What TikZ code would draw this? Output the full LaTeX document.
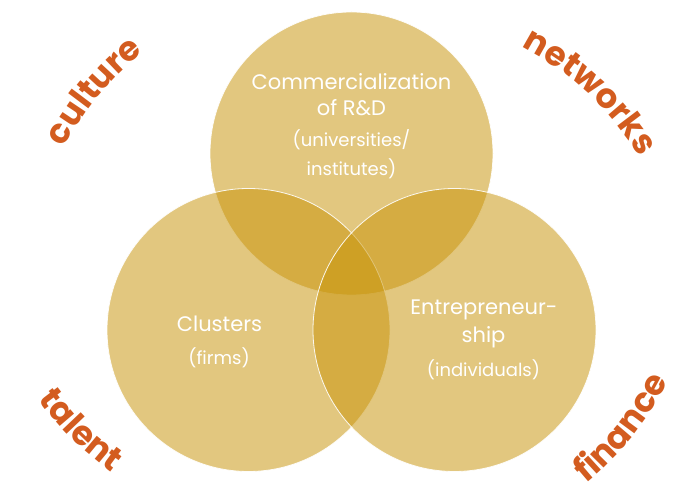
\documentclass[tikz,border=0pt]{standalone}
\usepackage{fontspec}
\setmainfont{Poppins}
\usetikzlibrary{decorations.text}
\definecolor{gold}{RGB}{200,148,10}
\definecolor{rust}{RGB}{211,92,31}
\newcommand\lblfont{\fontsize{34}{34}\selectfont\bfseries}
\begin{document}
\begin{tikzpicture}[x=1pt,y=1pt,
  venn/.style={circle,minimum size=283pt,inner sep=0pt,fill=gold,fill opacity=0.52,draw=white,draw opacity=0.9,line width=0.8pt},
  mainlbl/.style={text=white,font=\fontsize{21}{21}\selectfont,inner sep=0pt},
  sublbl/.style={text=white,font=\fontsize{18}{18}\selectfont,inner sep=0pt},
  arclbl/.style={decorate,decoration={text along path,text align=center,text color=rust}}]
\useasboundingbox (0,0) rectangle (686,492);
% circles
\node[venn] (top) at (351.5,338.5) {};
\node[venn] (left) at (248.5,162) {};
\node[venn] (right) at (454.5,162) {};
% inner labels
\node[mainlbl] (t1) at (351.5,410.5) {Commercialization};
\node[mainlbl] (t2) at (351.5,384.5) {of R\&D};
\node[sublbl] (t3) at (351.5,352) {(universities/};
\node[sublbl] (t4) at (351.5,323.5) {institutes)};
\node[mainlbl] (c1) at (219.5,168.5) {Clusters};
\node[sublbl] (c2) at (219,134.5) {(firms)};
\node[mainlbl] (e1) at (484,182) {Entrepreneur-};
\node[mainlbl] (e2) at (483.5,154.5) {ship};
\node[sublbl] (e3) at (483.5,122) {(individuals)};
% outer curved labels
\coordinate (cc) at (330.5,204);
\coordinate (nc) at (383,178);
\coordinate (tc) at (296,280);
\coordinate (fc) at (384,255);
\path[arclbl,decoration={text={|\lblfont|culture}}] (cc) ++(170.3:301) arc[start angle=170.3,end angle=110.3,radius=301];
\path[arclbl,decoration={text={|\lblfont|networks}}] (nc) ++(77:301) arc[start angle=77,end angle=17,radius=301];
\path[arclbl,decoration={text={|\lblfont|talent}}] (tc) ++(195.4:319) arc[start angle=195.4,end angle=255.4,radius=319];
\path[arclbl,decoration={text={|\lblfont|finance}}] (fc) ++(-68.8:319) arc[start angle=-68.8,end angle=-8.8,radius=319];
\end{tikzpicture}
\end{document}
